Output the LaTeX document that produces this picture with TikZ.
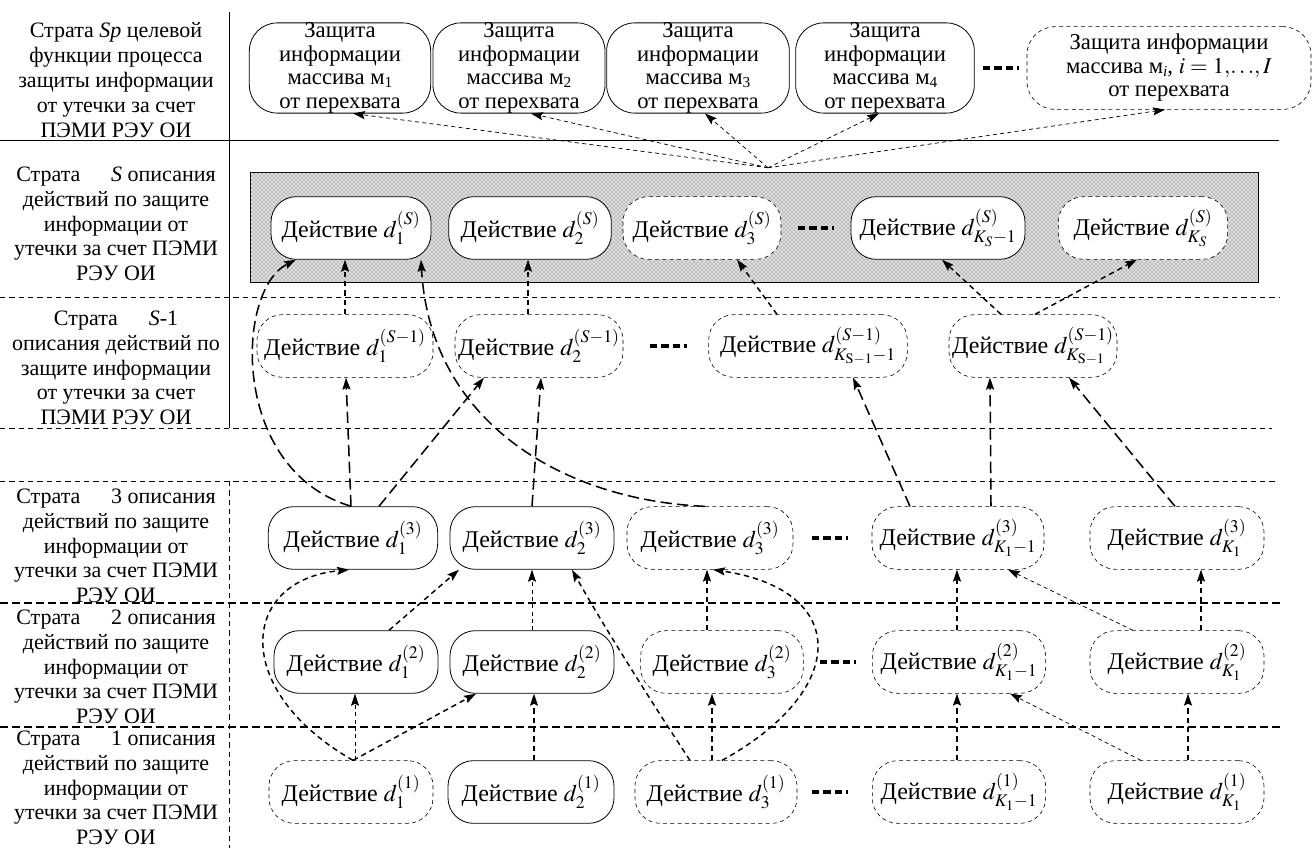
\documentclass[tikz,border=0pt]{standalone}
\usepackage{mathptmx}
\usepackage[no-math]{fontspec}
\setmainfont{Liberation Serif}
\usetikzlibrary{arrows.meta,patterns,calc}

% lowered index after the array letter
\newcommand{\arrind}[1]{\raisebox{-0.3ex}{\fontsize{11.5}{11.5}\selectfont #1}}

\begin{document}
\begin{tikzpicture}[x=0.75pt, y=-0.75pt,
  every node/.style={font=\fontsize{18}{20}\selectfont},
  act/.style={draw, line width=0.6pt, rounded corners=19pt, minimum height=47pt,
              inner xsep=1pt, inner ysep=0pt, fill=white},
  actd/.style={act, dash pattern=on 3pt off 2.5pt, line width=0.45pt},
  goal/.style={draw, line width=0.6pt, rounded corners=21pt, minimum height=62pt,
               align=center, inner sep=0pt, font=\fontsize{17}{17.6}\selectfont},
  goald/.style={goal, dash pattern=on 3pt off 2.5pt, line width=0.45pt},
  lbl/.style={align=center, inner sep=0pt, font=\fontsize{16.5}{18.6}\selectfont},
  arrowtip/.style={-{Stealth[length=9pt,width=6pt,inset=1.5pt]}},
  thinarr/.style={arrowtip, line width=0.55pt, dash pattern=on 3pt off 2.5pt},
  medarr/.style={arrowtip, line width=1.1pt, dash pattern=on 4pt off 3pt},
  longarr/.style={arrowtip, line width=1.15pt, dash pattern=on 8.5pt off 4pt},
  ellip/.style={line width=3.6pt, dash pattern=on 5.5pt off 3pt},
  sepdash/.style={line width=0.5pt, dash pattern=on 4pt off 3pt},
  sepheavy/.style={line width=0.8pt, dash pattern=on 6pt off 3pt},
]
\useasboundingbox (0,0) rectangle (1314,848);

% ---- grid of strata ----
\draw[line width=0.6pt] (0,140) -- (1279,140);
\draw[sepdash] (0,297) -- (1279,297);
\draw[sepdash] (0,428) -- (1272,428);
\draw[sepdash] (0,481) -- (1275,481);
\draw[sepheavy] (0,603) -- (1283,603);
\draw[sepheavy] (0,727) -- (1283,727);
\draw[line width=0.6pt] (229,12) -- (229,428);
\draw[sepdash] (229,481) -- (229,848);

% ---- stratum labels ----
\node[lbl] (lSp) at (116,80) {Страта \textit{Sp} целевой\\функции процесса\\защиты информации\\от утечки за счет\\ПЭМИ РЭУ ОИ};
\node[lbl] (lS) at (116,224) {Страта\hspace{1.4em}\textit{S} описания\\действий по защите\\информации от\\утечки за счет ПЭМИ\\РЭУ ОИ};
\node[lbl] (lS1) at (116,368) {Страта\hspace{1.4em}\textit{S}-1\\описания действий по\\защите информации\\от утечки за счет\\ПЭМИ РЭУ ОИ};
\node[lbl] (l3) at (116,546) {Страта\hspace{1.4em}3 описания\\действий по защите\\информации от\\утечки за счет ПЭМИ\\РЭУ ОИ};
\node[lbl] (l2) at (116,667) {Страта\hspace{1.4em}2 описания\\действий по защите\\информации от\\утечки за счет ПЭМИ\\РЭУ ОИ};
\node[lbl] (l1) at (116,788) {Страта\hspace{1.4em}1 описания\\действий по защите\\информации от\\утечки за счет ПЭМИ\\РЭУ ОИ};

% ---- goal stratum ----
\node[goal, minimum width=136pt] (t1) at (340,68) {Защита\\информации\\массива м\arrind{1}\\от перехвата};
\node[goal, minimum width=129pt] (t2) at (519,68) {Защита\\информации\\массива м\arrind{2}\\от перехвата};
\node[goal, minimum width=137pt] (t3) at (698,68) {Защита\\информации\\массива м\arrind{3}\\от перехвата};
\node[goal, minimum width=134pt] (t4) at (885,68) {Защита\\информации\\массива м\arrind{4}\\от перехвата};
\node[goald, minimum width=213pt] (t5) at (1169,68) {Защита информации\\массива м\arrind{\textit{i}}, $i=1,\!\ldots\!,I$\\от перехвата};
\draw[ellip] (983,68) -- (1019,68);

% ---- stratum S ----
\node[draw, line width=0.6pt, fill=black!12,
      postaction={pattern=crosshatch dots, pattern color=black!70},
      minimum width=756pt, minimum height=83pt, inner sep=0pt] (sbox) at (754,227.5) {};
\node[act,  minimum width=120pt]   (s1) at (351,228) {Действие $d_1^{(S)}$};
\node[act,  minimum width=122pt]   (s2) at (530,228) {Действие $d_2^{(S)}$};
\node[actd, minimum width=118.5pt] (s3) at (702,228) {Действие $d_3^{(S)}$};
\node[act,  minimum width=130.5pt] (s4) at (938,228) {Действие $d_{K_S-1}^{(S)}$};
\node[actd, minimum width=127pt]   (s5) at (1143,228) {Действие $d_{K_S}^{(S)}$};
\draw[ellip] (798,228) -- (834,228);

% ---- stratum S-1 ----
\node[actd, minimum width=132pt] (b1) at (345,346) {Действие $d_1^{(S-1)}$};
\node[actd, minimum width=126pt] (b2) at (539,346) {Действие $d_2^{(S-1)}$};
\node[actd, minimum width=149pt] (b3) at (808,346) {Действие $d_{K_{\mathrm{S}-1}-1}^{(S-1)}$};
\node[actd, minimum width=126pt] (b4) at (1033,346) {Действие $d_{K_{\mathrm{S}-1}}^{(S-1)}$};
\draw[ellip] (650,346) -- (687,346);

% ---- stratum 3 ----
\node[act,  minimum width=127pt]   (a31) at (353,538) {Действие $d_1^{(3)}$};
\node[act,  minimum width=123pt]   (a32) at (532,538) {Действие $d_2^{(3)}$};
\node[actd, minimum width=124.5pt] (a33) at (710,538) {Действие $d_3^{(3)}$};
\node[actd, minimum width=129pt]   (a34) at (958,538) {Действие $d_{K_1-1}^{(3)}$};
\node[actd, minimum width=130.5pt] (a35) at (1177,538) {Действие $d_{K_1}^{(3)}$};
\draw[ellip] (812,538) -- (848,538);

% ---- stratum 2 ----
\node[act,  minimum width=123pt]   (a21) at (356,662) {Действие $d_1^{(2)}$};
\node[act,  minimum width=123pt]   (a22) at (532,662) {Действие $d_2^{(2)}$};
\node[actd, minimum width=122pt]   (a23) at (722,662) {Действие $d_3^{(2)}$};
\node[actd, minimum width=130pt]   (a24) at (959,662) {Действие $d_{K_1-1}^{(2)}$};
\node[actd, minimum width=130.5pt] (a25) at (1177,662) {Действие $d_{K_1}^{(2)}$};
\draw[ellip] (820,662) -- (856,662);

% ---- stratum 1 ----
\node[actd, minimum width=123pt]   (a11) at (351,792) {Действие $d_1^{(1)}$};
\node[act,  minimum width=124.5pt] (a12) at (531,792) {Действие $d_2^{(1)}$};
\node[actd, minimum width=121.5pt] (a13) at (716,792) {Действие $d_3^{(1)}$};
\node[actd, minimum width=130pt]   (a14) at (959,792) {Действие $d_{K_1-1}^{(1)}$};
\node[actd, minimum width=130.5pt] (a15) at (1177,792) {Действие $d_{K_1}^{(1)}$};
\draw[ellip] (812,792) -- (848,792);

% ---- stratum S feeds the goal stratum ----
\coordinate (hub) at ($(sbox.north)+(14,-4)$);
\draw[thinarr] (hub) -- ($(t1.south)+(13,0)$);
\draw[thinarr] (hub) -- ($(t2.south)+(12,0)$);
\draw[thinarr] (hub) -- ($(t3.south)+(7,0)$);
\draw[thinarr] (hub) -- ($(t4.south)+(-6,0)$);
\draw[thinarr] (hub) -- ($(t5.south)+(-4,0)$);

% ---- S-1 -> S ----
\draw[medarr] (b1.north) -- ($(s1.south)+(-6,0)$);
\draw[medarr] ($(b2.north)+(-11,0)$) -- ($(s2.south)+(-2,0)$);
\draw[medarr] ($(b3.north)+(-31,0)$) -- ($(s3.south)+(35,0)$);
\draw[medarr] ($(b4.north)+(-32,0)$) -- ($(s4.south)+(4,0)$);
\draw[medarr] ($(b4.north)+(2,0)$) -- ($(s5.south)+(-6,0)$);

% ---- 3 -> S-1 and 3 -> S ----
\draw[longarr] ($(a31.north)+(-2,0)$) -- ($(b1.south)+(1,0)$);
\draw[longarr] ($(a31.north)+(26,0)$) -- ($(b2.south)+(-55,0)$);
\draw[longarr] (a32.north) -- ($(b2.south)+(2,0)$);
\draw[longarr] ($(a34.north)+(-48,0)$) -- ($(b3.south)+(45,0)$);
\draw[longarr] ($(a34.north)+(33,0)$) -- ($(b4.south)+(-43,0)$);
\draw[longarr] ($(a35.north)+(-2,0)$) -- ($(b4.south)+(36,0)$);
\draw[longarr] ($(a31.north)+(-2,0)$) .. controls (230,470) and (235,290) .. ($(s1.south)+(-55,0)$);
\draw[longarr] ($(a33.north)+(-5,0)$) .. controls (560,500) and (430,420) .. ($(s1.south)+(70,0)$);

% ---- 2 -> 3 ----
\draw[medarr] ($(a21.north)+(33,0)$) -- ($(a32.south)+(-73,0)$);
\draw[thinarr] (a22.north) -- (a32.south);
\draw[medarr] ($(a23.north)+(-15,0)$) -- ($(a33.south)+(-3,0)$);
\draw[medarr] ($(a24.north)+(-2,0)$) -- ($(a34.south)+(-1,0)$);
\draw[thinarr] ($(a25.north)+(-44,0)$) -- ($(a34.south)+(50,0)$);
\draw[medarr] ($(a25.north)+(24,0)$) -- ($(a35.south)+(24,0)$);

% ---- 1 -> 2 and 1 -> 3 ----
\draw[thinarr] ($(a11.north)+(4,0)$) -- ($(a21.south)+(-1,0)$);
\draw[medarr] ($(a11.north)+(2,0)$) -- ($(a22.south)+(-56,0)$);
\draw[medarr] ($(a11.north)+(2,0)$) .. controls (230,690) and (240,580) .. ($(a31.south)+(-4,0)$);
\draw[medarr] ($(a12.north)+(3,0)$) -- ($(a22.south)+(2,0)$);
\draw[medarr] ($(a13.north)+(-4,0)$) -- ($(a23.south)+(-10,0)$);
\draw[medarr] ($(a13.north)+(-26,0)$) .. controls (650,700) and (600,620) .. ($(a32.south)+(40,0)$);
\draw[medarr] ($(a13.north)+(6,0)$) .. controls (850,690) and (850,590) .. ($(a33.south)+(3,0)$);
\draw[medarr] ($(a14.north)+(-2,0)$) -- ($(a24.south)+(-2,0)$);
\draw[thinarr] ($(a15.north)+(-36,0)$) -- ($(a24.south)+(51,0)$);
\draw[medarr] ($(a15.north)+(11,0)$) -- ($(a25.south)+(11,0)$);

\end{tikzpicture}
\end{document}
